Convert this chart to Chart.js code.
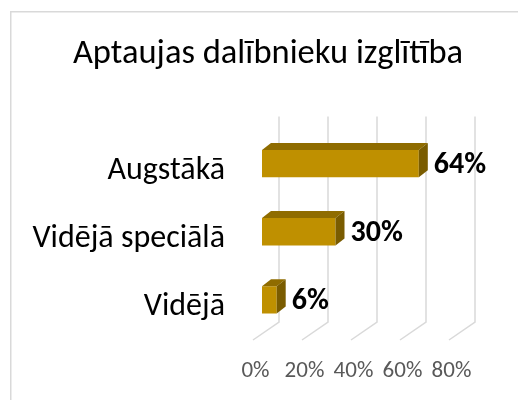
<!DOCTYPE html>
<html>
<head>
<meta charset="utf-8">
<script src="https://cdn.jsdelivr.net/npm/chart.js@4"></script>
<style>
  html, body { margin: 0; padding: 0; background: #fff; overflow: hidden; }
  #wrap { width: 518px; height: 400px; }
</style>
</head>
<body>
<div id="wrap"><canvas id="eduChart" width="518" height="400"></canvas></div>
<script>
// dati no attēla
const categories = ['Augstākā', 'Vidējā speciālā', 'Vidējā'];
const values = [64, 30, 6];
const tickValues = [0, 20, 40, 60, 80];
const chartTitle = 'Aptaujas dalībnieku izglītība';

const FONT = 'Carlito, Calibri, Lato, sans-serif';
const DX = 9, DY = -7; // 3D dziļums

// rāmis un virsraksts
const framePlugin = {
    id: 'frame',
    beforeDraw(chart) {
        const c = chart.ctx;
        c.save();
        c.fillStyle = '#fff';
        c.fillRect(0, 0, chart.width, chart.height);
        c.strokeStyle = '#d9d9d9';
        c.lineWidth = 1.5;
        c.strokeRect(10.75, 11.75, 700, 600);
        c.fillStyle = '#000';
        c.font = '34.5px ' + FONT;
        c.textAlign = 'center';
        c.textBaseline = 'middle';
        c.fillText(chartTitle, 268, 54);
        c.restore();
    }
};

// 3D režģis un ass iezīmes
const gridPlugin = {
    id: 'grid3d',
    beforeDatasetsDraw(chart) {
        const c = chart.ctx;
        const xs = chart.scales.x;
        const area = chart.chartArea;
        const top = area.top - 13;
        const bottom = area.bottom - 12;
        c.save();
        c.strokeStyle = '#d9d9d9';
        c.lineWidth = 1.5;
        tickValues.forEach(v => {
            const p = xs.getPixelForValue(v) + 17;
            c.beginPath();
            c.moveTo(p, top);
            c.lineTo(p, bottom);
            c.lineTo(p - 26, bottom + 18);
            c.stroke();
        });
        c.fillStyle = '#595959';
        c.font = '23px ' + FONT;
        c.textAlign = 'center';
        c.textBaseline = 'middle';
        tickValues.forEach(v => {
            c.fillText(v + '%', xs.getPixelForValue(v) - 6.5, area.bottom + 37);
        });
        c.restore();
    }
};

// sānu un augšējās skaldnes + vērtību iezīmes
const barsPlugin = {
    id: 'bars3d',
    afterDatasetsDraw(chart) {
        const c = chart.ctx;
        const meta = chart.getDatasetMeta(0);
        c.save();
        meta.data.forEach((bar, i) => {
            const h = bar.height;
            const t = bar.y - h / 2, b = bar.y + h / 2;
            c.fillStyle = '#8f6c00';
            c.beginPath();
            c.moveTo(bar.base, t);
            c.lineTo(bar.x, t);
            c.lineTo(bar.x + DX, t + DY);
            c.lineTo(bar.base + DX, t + DY);
            c.closePath();
            c.fill();
            c.fillStyle = '#7a5c00';
            c.beginPath();
            c.moveTo(bar.x, t);
            c.lineTo(bar.x + DX, t + DY);
            c.lineTo(bar.x + DX, b + DY);
            c.lineTo(bar.x, b);
            c.closePath();
            c.fill();

            c.fillStyle = '#000';
            c.font = 'bold 30px ' + FONT;
            c.textAlign = 'left';
            c.textBaseline = 'middle';
            c.fillText(values[i] + '%', bar.x + 15, bar.y + 2);
        });
        c.restore();
    }
};

const ctx = document.getElementById('eduChart').getContext('2d');
const eduChart = new Chart(ctx, {
    type: 'bar',
    data: {
        labels: categories,
        datasets: [{
            label: 'Izglītība',
            data: values,
            backgroundColor: '#bf9000',
            borderWidth: 0,
            categoryPercentage: 1,
            barPercentage: 0.4
        }]
    },
    options: {
        indexAxis: 'y',
        responsive: false,
        animation: false,
        layout: {
            padding: { left: 0, right: 60, top: 129.5, bottom: 66 }
        },
        scales: {
            x: {
                display: false,
                min: 0,
                max: 80
            },
            y: {
                afterFit(scale) { scale.width = 262; },
                grid: { display: false, drawTicks: false },
                border: { display: false },
                ticks: {
                    color: '#000',
                    padding: 37,
                    labelOffset: 7,
                    font: { family: FONT, size: 32 }
                }
            }
        },
        plugins: {
            legend: { display: false },
            tooltip: { enabled: false },
            title: { display: false }
        }
    },
    plugins: [framePlugin, gridPlugin, barsPlugin]
});
</script>
</body>
</html>
